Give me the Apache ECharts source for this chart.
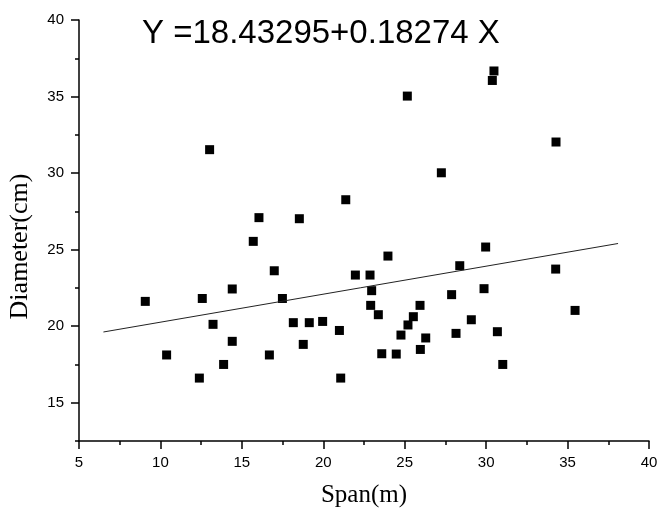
<!DOCTYPE html>
<html><head><meta charset="utf-8">
<script src="https://cdn.jsdelivr.net/npm/echarts@6/dist/echarts.min.js"></script>
<style>html,body{margin:0;padding:0;background:#fff}#c{width:657px;height:511px}</style>
</head><body><div id="c"></div>
<script>
const spanX = [9.07,10.38,12.39,12.57,13.23,13.88,14.41,14.41,16.69,16.99,17.49,18.16,18.77,19.14,19.96,
  13.02,16.05,15.70,18.53,30.48,30.38,25.16,34.29,27.25,21.38,29.97,23.97,21.97,22.87,22.97,22.91,23.38,
  20.99,21.07,23.59,24.48,24.77,25.20,25.53,25.94,25.96,26.29,27.88,28.15,28.38,29.09,29.87,30.69,31.02,34.27,35.46];
const diamY = [21.62,18.12,16.61,21.81,20.12,17.50,22.43,19.01,18.12,23.62,21.81,20.23,18.81,20.23,20.31,
  31.53,27.09,25.54,27.02,36.67,36.05,35.03,32.03,30.02,28.26,25.17,24.58,23.34,23.34,22.32,21.36,20.75,
  19.72,16.61,18.20,18.18,19.42,20.08,20.62,21.36,18.48,19.23,22.06,19.53,23.95,20.42,22.45,19.64,17.50,23.73,21.03];
const fitX = [6.5, 38.1];
const fitY = [19.62, 25.40];
const equation = 'Y =18.43295+0.18274 X';
const xName = 'Span(m)';
const yName = 'Diameter(cm)';

const chart = echarts.init(document.getElementById('c'), null, {renderer:'canvas'});
const sans = 'Liberation Sans, Arial, sans-serif';
const serif = 'Liberation Serif, Times New Roman, serif';
const lineStyle = {color:'#000', width:1.5};
chart.setOption({
  animation:false,
  backgroundColor:'#fff',
  title:{text:equation, left:142, top:17, padding:0,
    textStyle:{fontFamily:sans, fontSize:33, fontWeight:'normal', color:'#000'}},
  grid:{left:79, right:8, top:20, bottom:70, containLabel:false, outerBoundsMode:'none'},
  xAxis:{type:'value', min:5, max:40, interval:5,
    name:xName, nameLocation:'middle', nameGap:42,
    nameTextStyle:{fontFamily:serif, fontSize:25, color:'#000'},
    axisLine:{show:true, onZero:false, lineStyle},
    axisTick:{show:true, length:8, lineStyle},
    minorTick:{show:true, splitNumber:2, length:4, lineStyle},
    splitLine:{show:false}, minorSplitLine:{show:false},
    axisLabel:{fontFamily:sans, fontSize:15, color:'#000', margin:14}},
  yAxis:[{type:'value', min:12.5, max:40, minInterval:5, maxInterval:5,
    name:yName, nameLocation:'middle', nameGap:46,
    nameTextStyle:{fontFamily:serif, fontSize:26, color:'#000', padding:[0,32,0,0]},
    axisLine:{show:true, onZero:false, lineStyle},
    axisTick:{show:true, length:8, lineStyle},
    splitLine:{show:false},
    axisLabel:{fontFamily:sans, fontSize:15, color:'#000', margin:15, showMinLabel:false}},
   {type:'value', min:12.5, max:40, interval:2.5, position:'left',
    axisLine:{show:false}, axisTick:{show:true, length:4, lineStyle},
    axisLabel:{show:false}, splitLine:{show:false}}],
  series:[
    {type:'scatter', symbol:'rect', symbolSize:9, itemStyle:{color:'#000', opacity:1},
     data: spanX.map((x,i)=>[x, diamY[i]])},
    {type:'line', showSymbol:false, symbol:'none', lineStyle:{color:'#222', width:1},
     data: fitX.map((x,i)=>[x, fitY[i]])}
  ]
});
</script></body></html>
